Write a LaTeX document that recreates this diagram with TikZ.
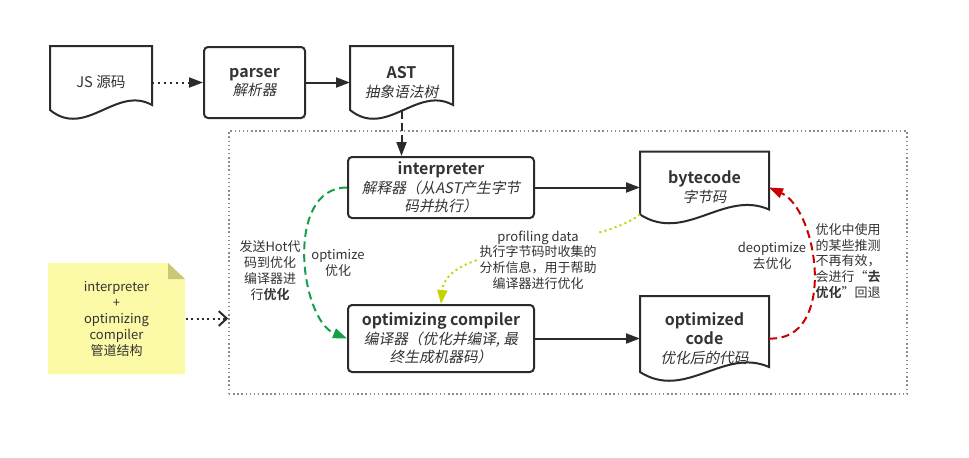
\documentclass[tikz,border=0pt]{standalone}
\usepackage{fontspec}
\setmainfont{Noto Sans CJK SC}[
  ItalicFont = {Noto Sans CJK SC},
  ItalicFeatures = {FakeSlant=0.2},
  BoldFont = {Noto Sans CJK SC Bold}]
\usetikzlibrary{calc,
arrows.meta,
positioning}
\definecolor{inkline}{HTML}{2B2B2B}
\definecolor{inktext}{HTML}{333333}
\definecolor{optgreen}{HTML}{14A04A}
\definecolor{deoptred}{HTML}{C80000}
\definecolor{profyellow}{HTML}{C5D400}
\definecolor{framegray}{HTML}{8C8C8C}
\definecolor{notefill}{HTML}{FCFAA6}
\definecolor{notefold}{HTML}{C8C878}
\newcommand*{\boxtitle}[1]{{\fontsize{12}{14}\selectfont\bfseries #1}}
% outline of a document node: straight sides, wavy bottom
\newcommand*{\docframe}[1]{%
  \draw [doc line] (#1.north west) -- ($(#1.south west) + (0, 9)$)
  .. controls ($(#1.south west)!.35!(#1.south east) + (0, -20)$)
  and ($(#1.south west)!.65!(#1.south east) + (0, 34)$)
  .. ($(#1.south east) + (0, 14)$) -- (#1.north east) -- cycle;}

\begin{document}
\begin{tikzpicture} [->,
  x = .75pt, y = .75pt,
  >={Triangle[width = 7.5pt, length = 10.5pt]},
  line width = 1.5pt,
  draw = inkline,
  main node/.style={rectangle, draw = inkline, rounded corners = 3pt,
      inner sep = 2pt, align = center, text = inktext,
      font = \fontsize{11}{14}\selectfont},
  doc node/.style={rectangle, inner sep = 2pt, align = center,
      text = inktext, font = \fontsize{11}{14}\selectfont},
  doc line/.style={-, draw = inkline, line width = 1.5pt},
  flow label/.style={align = center, text = inktext, inner sep = 1pt,
      font = \fontsize{9.75}{11.8}\selectfont},
  frame box/.style={rectangle, draw = framegray, line width = 1.1pt,
      dash pattern = on 1.1pt off 2pt},
  note node/.style={rectangle, inner sep = 0pt, align = center,
      text = inktext, font = \fontsize{9.75}{12}\selectfont,
      path picture={
        \fill [-, notefill] (path picture bounding box.south west)
        -- (path picture bounding box.north west)
        -- ([xshift = -12.75pt] path picture bounding box.north east)
        -- ([yshift = -12pt] path picture bounding box.north east)
        -- (path picture bounding box.south east) -- cycle;
        \fill [-, notefold] ([xshift = -12.75pt] path picture bounding box.north east)
        -- ([xshift = -12.75pt, yshift = -12pt] path picture bounding box.north east)
        -- ([yshift = -12pt] path picture bounding box.north east) -- cycle;}},
  dotted flow/.style={dash pattern = on 1.5pt off 3pt},
  dashed flow/.style={dash pattern = on 6pt off 3pt},
  optimize flow/.style={draw = optgreen, dash pattern = on 6pt off 3.5pt},
  profile flow/.style={draw = profyellow, dash pattern = on 1.5pt off 2.5pt},
  deopt flow/.style={draw = deoptred, dash pattern = on 6pt off 3.5pt},
  note flow/.style={-{Straight Barb[length = 6pt, width = 11pt]},
      dash pattern = on 1.5pt off 2.5pt}]

  \useasboundingbox (0, 0) rectangle (969, -457);

  % top row: source -> parser -> AST
  \node [doc node,
    minimum width = 75pt, minimum height = 53.25pt
  ] (js) at (101, -82.5) {JS 源码};
  \docframe{js}

  \node [main node,
    minimum width = 75.75pt, minimum height = 53.25pt,
    right = 38.25pt of js
  ] (parser) {\boxtitle{parser}\\\textit{解析器}};

  \node [doc node,
    minimum width = 75.75pt, minimum height = 53.25pt,
    right = 33pt of parser
  ] (ast) {\boxtitle{AST}\\\textit{抽象语法树}};
  \docframe{ast}

  \draw [dotted flow] (js.east) -- (parser.west);
  \draw (parser.east) -- (ast.west);

  % pipeline frame
  \node [frame box,
    minimum width = 508.5pt, minimum height = 197.25pt
  ] (pipeline) at (568, -262.5) {};

  \node [main node,
    minimum width = 139.5pt, minimum height = 45.75pt
  ] (interp) at (441, -187.5) {\boxtitle{interpreter}\\\textit{解释器（从AST产生字节}\\\textit{码并执行）}};

  \node [main node,
    minimum width = 139.5pt, minimum height = 50.25pt,
    below = 63.75pt of interp
  ] (optc) {\boxtitle{optimizing compiler}\\\textit{编译器（优化并编译, 最}\\\textit{终生成机器码）}};

  \node [doc node,
    minimum width = 95.25pt, minimum height = 52.5pt,
    right = 78.75pt of interp
  ] (bytecode) {\boxtitle{bytecode}\\\textit{字节码}};
  \docframe{bytecode}

  \node [doc node,
    minimum width = 95.25pt, minimum height = 62.25pt,
    right = 78.75pt of optc
  ] (optcode) {\boxtitle{optimized}\\\boxtitle{code}\\\textit{优化后的代码}};
  \docframe{optcode}

  \draw [dashed flow] ($(ast.south) + (0, 8)$) -- (ast.south |- interp.north);
  \draw (interp.east) -- (interp.east -| bytecode.west);
  \draw (optc.east) -- (optc.east -| optcode.west);

  % optimize / profiling / deoptimize loops
  \draw [optimize flow] (interp.west) .. controls +(-63, 0) and +(-47, 19) .. (optc.west);

  \coordinate (bcfoot) at ($(bytecode.south west) + (0, 9)$);
  \draw [profile flow] (bcfoot) .. controls +(-49, -37) and +(6, 62) .. (optc.north);

  \draw [deopt flow] (optcode.east) .. controls +(69, -3) and +(49, -22) .. (bytecode.east);

  \node [flow label] (optlbl) at (338, -263) {optimize\\优化};
  \node [flow label] (hotlbl) at (270, -270.5) {发送Hot代\\码到优化\\编译器进\\行\textbf{优化}};
  \node [flow label, fill = white] (proflbl) at (538, -260) {profiling data\\执行字节码时收集的\\分析信息，用于帮助\\编译器进行优化};
  \node [flow label] (deoptlbl) at (772, -256) {deoptimize\\去优化};
  \node [flow label] (whylbl) at (848, -261) {优化中使用\\的某些推测\\不再有效，\\会进行“\textbf{去}\\\textbf{优化}”回退};

  % note on the left
  \node [note node,
    minimum width = 102.75pt, minimum height = 83.25pt
  ] (note) at (116.5, -318.5) {interpreter\\+\\optimizing\\compiler\\管道结构};
  \draw [note flow] (note.east) -- (note.east -| pipeline.west);

\end{tikzpicture}
\end{document}
